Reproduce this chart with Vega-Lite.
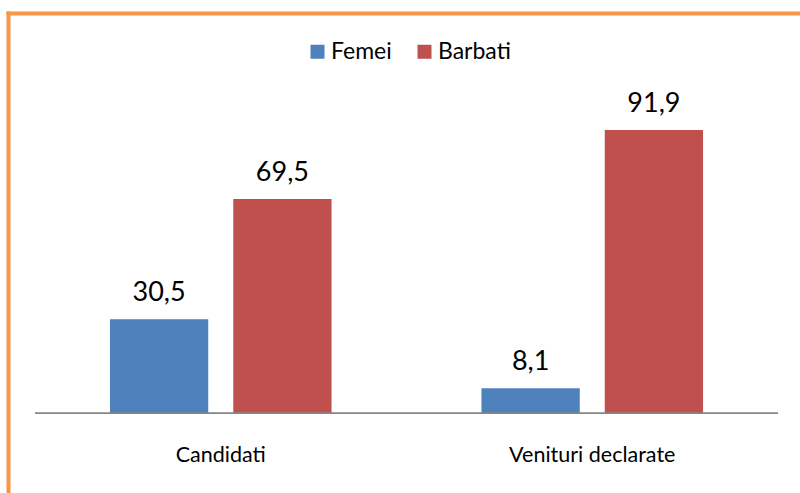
{
  "$schema": "https://vega.github.io/schema/vega-lite/v6.json",
  "width": 792,
  "height": 480,
  "autosize": "none",
  "padding": {"left": 8, "top": 13, "right": 0, "bottom": 0},
  "background": "white",
  "config": {
    "view": {"stroke": null},
    "font": "Lato",
    "locale": {"number": {"decimal": ",", "thousands": ".", "grouping": [3], "currency": ["", ""]}}
  },
  "data": {
    "values": [
      {"categorie": "Candidati", "sex": "Femei", "procent": 30.5},
      {"categorie": "Candidati", "sex": "Barbati", "procent": 69.5},
      {"categorie": "Venituri declarate", "sex": "Femei", "procent": 8.1},
      {"categorie": "Venituri declarate", "sex": "Barbati", "procent": 91.9}
    ]
  },
  "encoding": {
    "x": {
      "field": "categorie",
      "type": "nominal",
      "sort": null,
      "scale": {"paddingInner": 0, "paddingOuter": 0.06595, "align": 0.551},
      "axis": {"orient": "top", "title": null, "labels": false, "ticks": false, "grid": false, "domainColor": "#F79646", "domainWidth": 4, "domainCap": "square"}
    }
  },
  "layer": [
    {
      "mark": {"type": "bar"},
      "encoding": {
        "xOffset": {"field": "sex", "type": "nominal", "sort": ["Femei", "Barbati"], "scale": {"paddingInner": 0.2028, "paddingOuter": 0.6079}},
        "y": {
          "field": "procent",
          "type": "quantitative",
          "scale": {"domain": [-25.85, 129.85], "nice": false, "zero": false},
          "axis": {"orient": "left", "title": null, "labels": false, "ticks": false, "grid": false, "domainColor": "#F79646", "domainWidth": 4, "domainCap": "square"}
        },
        "y2": {"datum": 0},
        "color": {
          "field": "sex",
          "type": "nominal",
          "sort": ["Femei", "Barbati"],
          "scale": {"domain": ["Femei", "Barbati"], "range": ["#4F81BD", "#C0504D"]},
          "legend": {
            "orient": "none",
            "legendX": 298,
            "legendY": 27,
            "direction": "horizontal",
            "title": null,
            "symbolType": "square",
            "symbolSize": 196,
            "symbolStrokeWidth": 0,
            "symbolOpacity": 1,
            "labelFontSize": 23,
            "labelOffset": 2,
            "columnPadding": 21,
            "padding": 0,
            "labelColor": "black"
          }
        }
      }
    },
    {
      "mark": {"type": "bar", "fillOpacity": 0, "stroke": "#868686", "strokeWidth": 1.5},
      "encoding": {
        "y": {"datum": 0},
        "y2": {"datum": 0}
      }
    },
    {
      "mark": {"type": "text", "fontSize": 27, "baseline": "alphabetic", "dy": -18, "color": "black"},
      "encoding": {
        "xOffset": {"field": "sex", "type": "nominal", "sort": ["Femei", "Barbati"], "scale": {"paddingInner": 0.2028, "paddingOuter": 0.6079}},
        "y": {"field": "procent", "type": "quantitative"},
        "text": {"field": "procent", "type": "quantitative", "format": ".1f"}
      }
    },
    {
      "transform": [{"filter": "datum.sex === 'Femei'"}],
      "mark": {"type": "text", "fontSize": 21.5, "baseline": "alphabetic", "color": "black"},
      "encoding": {
        "y": {"datum": -15.8},
        "text": {"field": "categorie", "type": "nominal"}
      }
    }
  ]
}
